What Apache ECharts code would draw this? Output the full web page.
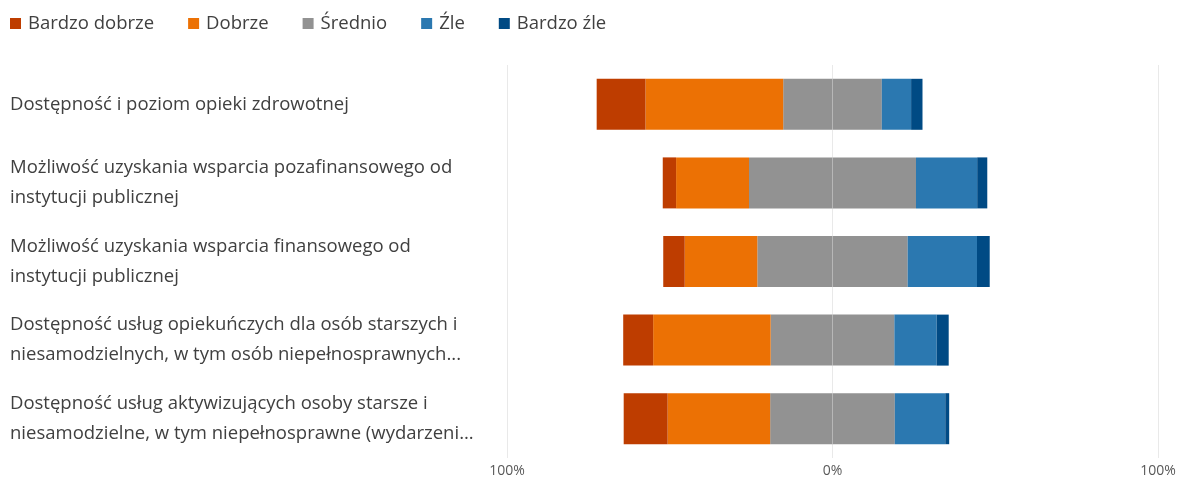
<!DOCTYPE html>
<html>
<head>
<meta charset="utf-8">
<script src="https://cdn.jsdelivr.net/npm/echarts@6/dist/echarts.min.js"></script>
<style>html,body{margin:0;padding:0;background:#fff}#c{width:1191px;height:478px}</style>
</head>
<body>
<div id="c"></div>
<script>
var categories = [
  "Dostępność i poziom opieki zdrowotnej",
  "Możliwość uzyskania wsparcia pozafinansowego od\ninstytucji publicznej",
  "Możliwość uzyskania wsparcia finansowego od\ninstytucji publicznej",
  "Dostępność usług opiekuńczych dla osób starszych i\nniesamodzielnych, w tym osób niepełnosprawnych...",
  "Dostępność usług aktywizujących osoby starsze i\nniesamodzielne, w tym niepełnosprawne (wydarzeni..."
];
var bardzoDobrze = [15.0, 4.1, 6.6, 9.2, 13.5];
var dobrze       = [42.3, 22.4, 22.3, 36.1, 31.5];
var srednio      = [30.3, 51.3, 46.2, 38.0, 38.3];
var zle          = [9.0, 18.8, 21.3, 13.0, 15.5];
var bardzoZle    = [3.5, 3.1, 3.9, 3.7, 1.2];
var tickLabels   = {"-100": "100%", "0": "0%", "100": "100%"};

var colors = {bd: "#BE3D00", d: "#EC7104", s: "#929292", z: "#2B78B0", bz: "#004A84"};
var FONT = "Open Sans";

function neg(a){ return a.map(function(v){ return -v; }); }
function half(a, sign){ return a.map(function(v){ return sign * v / 2; }); }

function bar(name, data, color){
  return {
    name: name, type: "bar", stack: "all", data: data, barWidth: 51,
    itemStyle: {color: color}, emphasis: {disabled: true}
  };
}

var chart = echarts.init(document.getElementById("c"), null, {renderer: "canvas"});
chart.setOption({
  animation: false,
  color: [colors.s, colors.d, colors.bd, colors.s, colors.z, colors.bz],
  legend: {
    data: ["Bardzo dobrze", "Dobrze", "Średnio", "Źle", "Bardzo źle"],
    left: 5, top: 9,
    itemWidth: 11, itemHeight: 11, itemGap: 34,
    icon: "rect",
    textStyle: {fontFamily: FONT, fontSize: 18.5, color: "#404040", padding: [0, 0, 0, 2]}
  },
  grid: {left: 507, right: 33, top: 65, bottom: 20, containLabel: false},
  xAxis: {
    type: "value", min: -100, max: 100, interval: 100, z: 5,
    axisLine: {show: false}, axisTick: {show: false},
    splitLine: {show: true, lineStyle: {color: "rgba(200,200,200,0.4)", width: 1}},
    axisLabel: {
      fontFamily: FONT, fontSize: 14, color: "#595959", margin: 6,
      formatter: function(v){ return tickLabels[String(v)] || ""; }
    }
  },
  yAxis: {
    type: "category", data: categories, inverse: true,
    axisLine: {show: false}, axisTick: {show: false},
    axisLabel: {
      align: "left", margin: 497, fontFamily: FONT, fontSize: 18.5,
      color: "#404040", lineHeight: 30
    }
  },
  series: [
    bar("Średnio", half(srednio, -1), colors.s),
    bar("Dobrze", neg(dobrze), colors.d),
    bar("Bardzo dobrze", neg(bardzoDobrze), colors.bd),
    bar("Średnio", half(srednio, 1), colors.s),
    bar("Źle", zle, colors.z),
    bar("Bardzo źle", bardzoZle, colors.bz)
  ]
});
</script>
</body>
</html>
